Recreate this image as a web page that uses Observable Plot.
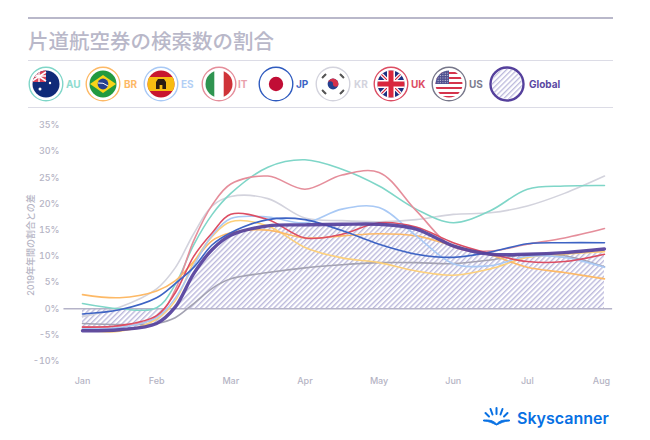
<!DOCTYPE html>
<html lang="ja">
<head>
<meta charset="utf-8">
<script src="https://cdn.jsdelivr.net/npm/d3@7"></script>
<script src="https://cdn.jsdelivr.net/npm/@observablehq/plot@0.6"></script>
<style>
html,body{margin:0;padding:0;background:#fff;width:650px;height:440px;overflow:hidden;font-family:Inter,"Noto Sans CJK JP",sans-serif}
#page{position:relative;width:650px;height:440px}
.rule{position:absolute;left:28px;width:585px;background:#dcdce6;height:1px}
#title{position:absolute;left:28px;top:25px;font:500 20.5px/30px "Noto Sans CJK JP",sans-serif;color:#b9b8c9;white-space:nowrap}
#legend{position:absolute;left:0;top:60px}
#chart{position:absolute;left:0;top:110px}
#logo{position:absolute;left:480px;top:400px}
</style>
</head>
<body>
<div id="page">
  <div class="rule" style="top:17px;height:2px;background:#b9b8ca"></div>
  <div id="title">片道航空券の検索数の割合</div>
  <div class="rule" style="top:60px"></div>
  <div class="rule" style="top:107px"></div>
  <svg id="legend" width="650" height="48"></svg>
  <div id="chart"></div>
  <svg id="logo" width="140" height="36" viewBox="0 0 140 36">
    <g stroke="#0770e3" stroke-width="2" stroke-linecap="round">
      <line x1="16.5" y1="8" x2="16.5" y2="14"/><line x1="10.5" y1="9" x2="12.5" y2="14.5"/><line x1="22.5" y1="9" x2="20.5" y2="14.5"/>
      <line x1="5.5" y1="13" x2="9" y2="16.5"/><line x1="27.5" y1="13" x2="24" y2="16.5"/>
    </g>
    <path d="M3.5 20 C9 20 13 20 16.5 24 C20 20 24 20 29.5 20 L29.5 21 C24 21 21 23 16.5 25 C12 23 9 21 3.5 21 Z" fill="#0770e3" stroke="#0770e3"/>
    <text x="37" y="23.5" font-family="Inter" font-weight="600" font-size="16" fill="#0770e3">Skyscanner</text>
  </svg>
</div>
<script>
const months = ["Jan","Feb","Mar","Apr","May","Jun","Jul","Aug"];
const yTicks = [-10,-5,0,5,10,15,20,25,30,35];
const knots  = [0,0.5,1,1.25,1.5,1.75,2,2.5,3,3.5,4,4.5,5,5.5,6,6.5,7.04];

const AU     = [1.0,0.0,0.2,4.6,12.2,18,22,27,28.4,26.6,23.4,19,16.4,18.7,22.8,23.4,23.5];
const BR     = [2.7,2.1,3.4,5.3,9,13,14.5,15,13.5,13.9,14.3,13.9,12,10.3,7.9,6.9,5.7];
const ES     = [-3.8,-3.6,-1.7,2,8.2,14,17.2,17.5,16.4,19,19.3,13.9,8.6,8.2,10,9.8,7.9];
const IT     = [-3.5,-3.3,-1.6,3.6,13,19.8,23.8,25.3,22.8,25.5,26,18.7,11.8,11,12.3,13.5,15.3];
const JP     = [-1,-0.2,2.1,4.8,7.9,12.2,14.5,17,17,14.9,12.3,10.4,9.8,10.8,12.4,12.6,12.6];
const KR     = [-1.5,0.3,3.8,7.8,14.3,19.6,21.4,21,17.3,16.8,16.6,17,18,18.3,19.6,22,25.3];
const UK     = [-3.5,-3.2,-1.3,3,10,14.5,18,17,13.5,14.2,16.4,15.6,12.6,10.5,9,9,10.4];
const US     = [-2.8,-3,-2.8,-1.7,1,3.9,5.7,6.9,7.8,8.4,8.8,8.8,8.6,9.3,10.4,10.1,8];
const Other  = [-4,-4.3,-2,1.5,8.8,13.8,16.6,15.8,11.7,9.7,8.8,7.2,6.4,7.6,9.8,10.4,10.9];
const Global = [-4.2,-4,-2.8,0.3,6.7,11.3,14,15.8,16,16.1,16.1,15.2,12,10.4,10.4,10.7,11.4];

const seriesColors = {
  AU:"#7fd6c8", BR:"#fdb966", ES:"#a9c9f5", IT:"#e58e9b", JP:"#3d63c4",
  KR:"#d3d3dd", UK:"#dc4d63", US:"#a3a2b2", Other:"#fdd07a", Global:"#55409c"
};
const seriesValues = {KR,US,AU,IT,Other,BR,ES,UK,JP};
const toRows = (name, vals) => vals.map((v,i)=>({name, x:knots[i], v}));

const marks = [
  () => {
    const ns = "http://www.w3.org/2000/svg";
    const d = document.createElementNS(ns,"defs");
    d.innerHTML = `<pattern id="hatch" width="3.7" height="3.7" patternUnits="userSpaceOnUse" patternTransform="rotate(45)"><rect width="3.7" height="3.7" fill="#fff"/><rect width="1.4" height="3.7" fill="#bcb9dc"/></pattern>`;
    return d;
  },
  Plot.areaY(toRows("Global",Global), {x:"x", y1:0, y2:"v", fill:"url(#hatch)", curve:"catmull-rom"}),
  Plot.ruleY([0], {x1:-0.25, x2:7.15, stroke:"#b5b3c8", strokeWidth:1.6}),
  Plot.axisY({ticks:yTicks, tickFormat:d=>d+"%", tickSize:0, tickPadding:3, fontSize:9, fontWeight:500, color:"#b5b4c4",
    label:"2019年年間の割合との差", labelAnchor:"center", labelArrow:"none", labelOffset:35}),
  Plot.axisX({ticks:d3.range(months.length), tickFormat:i=>months[i], tickSize:0, tickPadding:3, fontSize:9, fontWeight:500, color:"#b5b4c4", label:null}),
  ...Object.entries(seriesValues).map(([name,vals]) =>
    Plot.line(toRows(name,vals), {x:"x", y:"v", stroke:seriesColors[name], strokeWidth:1.6, curve:"catmull-rom"})),
  Plot.line(toRows("Global",Global), {x:"x", y:"v", stroke:seriesColors.Global, strokeWidth:3.4, strokeOpacity:.92, curve:"catmull-rom"})
];

const chart = Plot.plot({
  width:650, height:290,
  marginLeft:62, marginRight:20, marginTop:5, marginBottom:26,
  x:{domain:[0,7], range:[82,601], axis:null},
  y:{domain:[-10,35], range:[250.7,14.7], axis:null},
  style:{background:"transparent", fontFamily:'Inter,"Noto Sans CJK JP",sans-serif', overflow:"visible"},
  marks
});
document.getElementById("chart").appendChild(chart);

/* legend */
const legendItems = [
  {id:"AU", cx:46,  lx:66,  text:"#8fdccf"},
  {id:"BR", cx:103, lx:124, text:"#fdb966"},
  {id:"ES", cx:161, lx:181, text:"#b3cff5"},
  {id:"IT", cx:219, lx:238, text:"#e9a0ab"},
  {id:"JP", cx:276, lx:296, text:"#3d63c4"},
  {id:"KR", cx:333, lx:354, text:"#d3d3dd"},
  {id:"UK", cx:391, lx:411, text:"#dc4d63"},
  {id:"US", cx:449, lx:469, text:"#7c7b8e"},
  {id:"Global", cx:507, lx:529, text:"#5a49a3"}
];
const ringColors = {AU:"#7fd6c8",BR:"#fdb966",ES:"#a9c9f5",IT:"#e58e9b",JP:"#2f5bbf",KR:"#d3d3dd",UK:"#dc4d63",US:"#77778a",Global:"#55409c"};
const flags = {
  AU:`<rect x="-14" y="-14" width="28" height="28" fill="#0f2a78"/><rect x="-14" y="-14" width="14" height="12" fill="#d9445a"/><path d="M-14 -12L0 -3M-14 -3L0 -12" stroke="#fff" stroke-width="1.6"/><path d="M-7 -14V-2M-14 -8H0" stroke="#fff" stroke-width="1.4"/><circle cx="4" cy="-1" r="1.2" fill="#fff"/><circle cx="-6" cy="5" r="1.5" fill="#fff"/>`,
  BR:`<rect x="-14" y="-14" width="28" height="28" fill="#229a3f"/><path d="M-13 0L0 -9L13 0L0 9Z" fill="#f7d417"/><circle r="5.4" fill="#24408f"/><path d="M-5 -1Q0 -2 5 2" stroke="#fff" stroke-width="1" fill="none"/>`,
  ES:`<rect x="-14" y="-14" width="28" height="28" fill="#c8162f"/><rect x="-14" y="-7" width="28" height="14" fill="#f7bb12"/><path d="M-5 5V-2L-3 -5H3L5 -2V5Z" fill="#2b1a12"/><rect x="-1.4" y="1" width="2.8" height="4" fill="#f7bb12"/>`,
  IT:`<rect x="-14" y="-14" width="28" height="28" fill="#fff"/><rect x="-14" y="-14" width="9.3" height="28" fill="#2f9450"/><rect x="4.7" y="-14" width="9.3" height="28" fill="#cf3338"/>`,
  JP:`<rect x="-14" y="-14" width="28" height="28" fill="#fff"/><circle r="7.2" fill="#c10d35"/>`,
  KR:`<rect x="-14" y="-14" width="28" height="28" fill="#fff"/><circle r="5.4" fill="#24408f"/><path d="M-5.4 0A5.4 5.4 0 0 1 5.4 0A2.7 2.7 0 0 1 0 0A2.7 2.7 0 0 0 -5.4 0Z" fill="#d6304a"/><path d="M-11 -6L-7 -10M-11 6L-7 10M11 -6L7 -10M11 6L7 10" stroke="#555" stroke-width="2.2"/>`,
  UK:`<rect x="-14" y="-14" width="28" height="28" fill="#1c2f80"/><path d="M-14 -14L14 14M14 -14L-14 14" stroke="#fff" stroke-width="3.6"/><path d="M-14 -14L14 14M14 -14L-14 14" stroke="#d9263d" stroke-width="1.2"/><path d="M0 -14V14M-14 0H14" stroke="#fff" stroke-width="8"/><path d="M0 -14V14M-14 0H14" stroke="#d9263d" stroke-width="5"/>`,
  US:`<rect x="-14" y="-14" width="28" height="28" fill="#fff"/><path d="M-14 -11H14M-14 -6H14M-14 -1H14M-14 4H14M-14 9H14M-14 13H14" stroke="#d5344c" stroke-width="1.8"/><rect x="-14" y="-14" width="14" height="14" fill="#4f4f8f"/><rect x="-14" y="-14" width="14" height="14" fill="url(#dots)"/>`,
  Global:`<rect x="-16" y="-16" width="32" height="32" fill="url(#hatchL)"/>`
};
let s = `<defs>
<pattern id="hatchL" width="3.7" height="3.7" patternUnits="userSpaceOnUse" patternTransform="rotate(45)"><rect width="3.7" height="3.7" fill="#fff"/><rect width="1.3" height="3.7" fill="#bcb9dc"/></pattern>
<pattern id="dots" width="2.4" height="2.4" patternUnits="userSpaceOnUse"><circle cx="1" cy="1" r=".5" fill="#fff"/></pattern>
</defs>`;
for (const it of legendItems) {
  const g = it.id === "Global";
  const rIn = g ? 15 : 13.5;
  s += `<clipPath id="c${it.id}"><circle cx="0" cy="0" r="${rIn}"/></clipPath>
  <g transform="translate(${it.cx},24)"><g clip-path="url(#c${it.id})">${flags[it.id]}</g>
  <circle r="${g?16.5:16.8}" fill="none" stroke="${ringColors[it.id]}" stroke-width="${g?2.4:1.4}"/></g>
  <text x="${it.lx}" y="27.5" font-family="Inter" font-weight="700" font-size="10" fill="${it.text}">${it.id}</text>`;
}
document.getElementById("legend").innerHTML = s;
</script>
</body>
</html>
